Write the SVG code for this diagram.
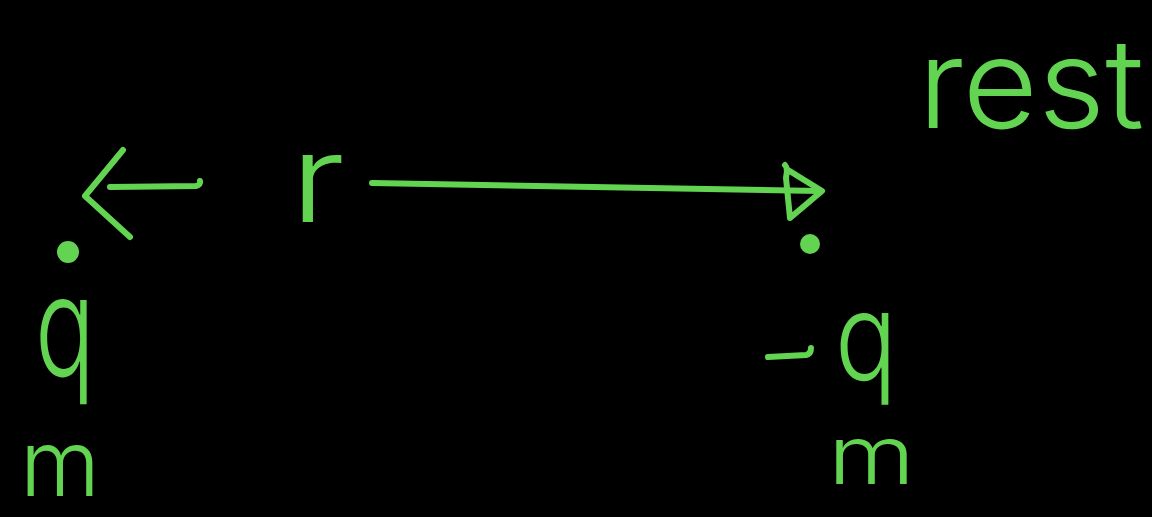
<svg xmlns="http://www.w3.org/2000/svg" width="1152" height="517" viewBox="0 0 1152 517">
<style>
.ink{fill:none;stroke:#63d452;stroke-width:6;stroke-linecap:round;stroke-linejoin:round}
.dot{fill:#63d452}
.lbl{fill:#63d452;font-family:Inter,Roboto,"DejaVu Sans",sans-serif;font-weight:300}
</style>
<rect width="1152" height="517" fill="#000"/>
<g id="charge-left">
<circle class="dot" cx="68" cy="252" r="11"/>
<text class="lbl" x="35" y="376" font-size="140" textLength="60" lengthAdjust="spacingAndGlyphs">q</text>
<text class="lbl" x="20" y="496" font-size="92" textLength="80" lengthAdjust="spacingAndGlyphs">m</text>
</g>
<g id="charge-right">
<circle class="dot" cx="810" cy="244" r="10"/>
<path class="ink" d="M768 357 L806 355 Q811 354 811 348"/>
<text class="lbl" x="835" y="380" font-size="122" textLength="62" lengthAdjust="spacingAndGlyphs">q</text>
<text class="lbl" x="828" y="484" font-size="80" textLength="87" lengthAdjust="spacingAndGlyphs">m</text>
</g>
<g id="label-r">
<text class="lbl" x="290" y="222" font-size="122" textLength="55" lengthAdjust="spacingAndGlyphs">r</text>
</g>
<g id="label-rest">
<text class="lbl" x="918" y="128" font-size="124" textLength="226" lengthAdjust="spacingAndGlyphs">rest</text>
</g>
<g id="connectors">
<path class="ink" d="M110 187 L196 186 Q201 185 200 181"/>
<path class="ink" d="M123 150 L85 196 L130 237"/>
<path class="ink" d="M372 183 L820 191"/>
<path class="ink" d="M785 165 Q788 168 786 178 L790 218 L822 191 L788 170"/>
</g>
</svg>
